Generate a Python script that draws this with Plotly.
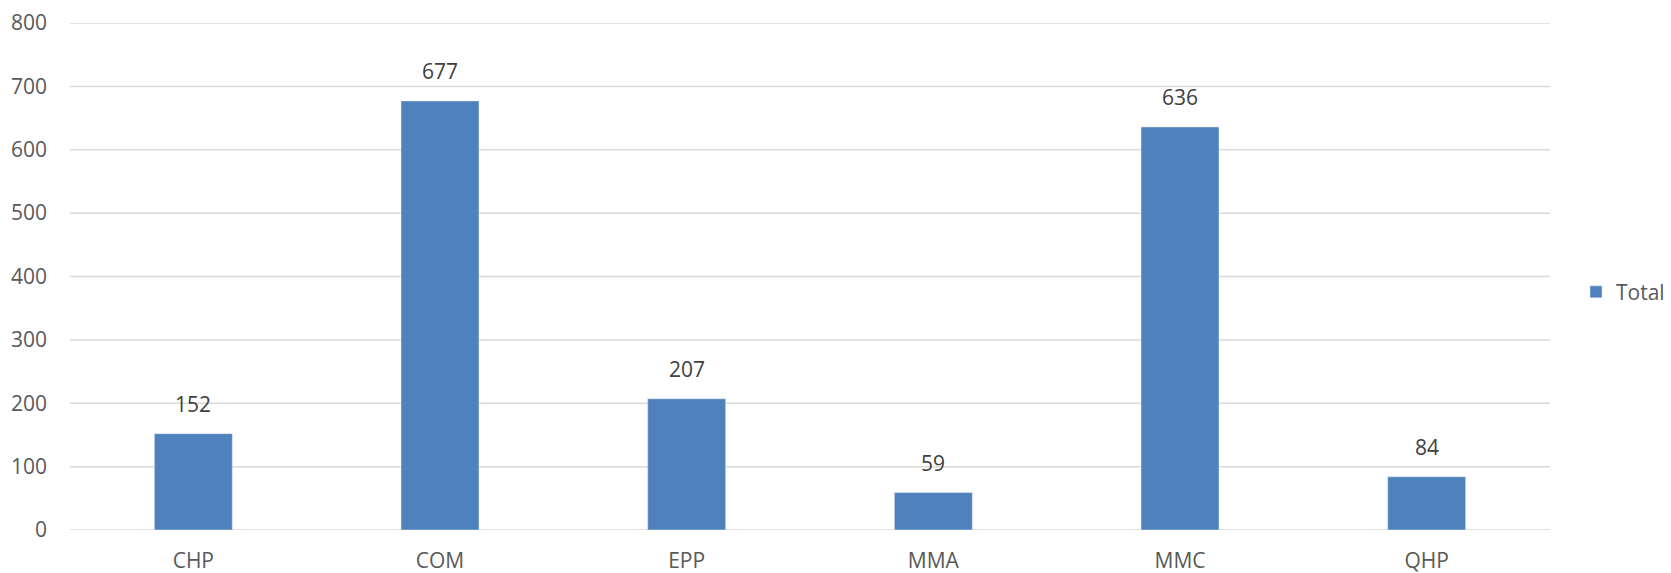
import plotly.graph_objects as go

categories = ["CHP", "COM", "EPP", "MMA", "MMC", "QHP"]
totals = [152, 677, 207, 59, 636, 84]
y_ticks = [0, 100, 200, 300, 400, 500, 600, 700, 800]

BAR = "#4f81bd"
TXT = "#595959"
FONT = "Open Sans"

# the page body has an 8px margin, so the figure is sized/shifted to compensate
W, H = 1663, 565

fig = go.Figure()
fig.add_trace(go.Bar(x=categories, y=totals, name="Total", marker_color=BAR,
                     width=0.316, cliponaxis=False))

for c, v in zip(categories, totals):
    fig.add_annotation(x=c, y=v, text=str(v), showarrow=False, yanchor="bottom",
                       yshift=14, font=dict(family=FONT, size=21, color="#404040"))

for t in y_ticks:
    fig.add_shape(type="line", xref="paper", yref="y", x0=0, x1=1, y0=t, y1=t,
                  line=dict(color="#d9d9d9", width=1.5), layer="below")

fig.update_layout(
    width=W, height=H,
    margin=dict(l=62, r=121, t=15, b=43, autoexpand=False),
    paper_bgcolor="white", plot_bgcolor="white",
    font=dict(family=FONT, size=21, color=TXT),
    showlegend=True,
    legend=dict(xref="container", x=1568 / W, y=0.469, xanchor="left", yanchor="middle",
                font=dict(family=FONT, size=21, color=TXT),
                itemwidth=30, bgcolor="rgba(0,0,0,0)"),
)
fig.update_xaxes(showgrid=False, showline=False, ticks="", ticklabelstandoff=16,
                 automargin=False,
                 tickfont=dict(family=FONT, size=21, color=TXT))
fig.update_yaxes(range=[0, 800], tickvals=y_ticks, showgrid=False,
                 zeroline=False, showline=False, automargin=False,
                 ticks="", ticklabelstandoff=22, ticklabeloverflow="allow",
                 tickfont=dict(family=FONT, size=21, color=TXT))

fig.write_html("out.html")
